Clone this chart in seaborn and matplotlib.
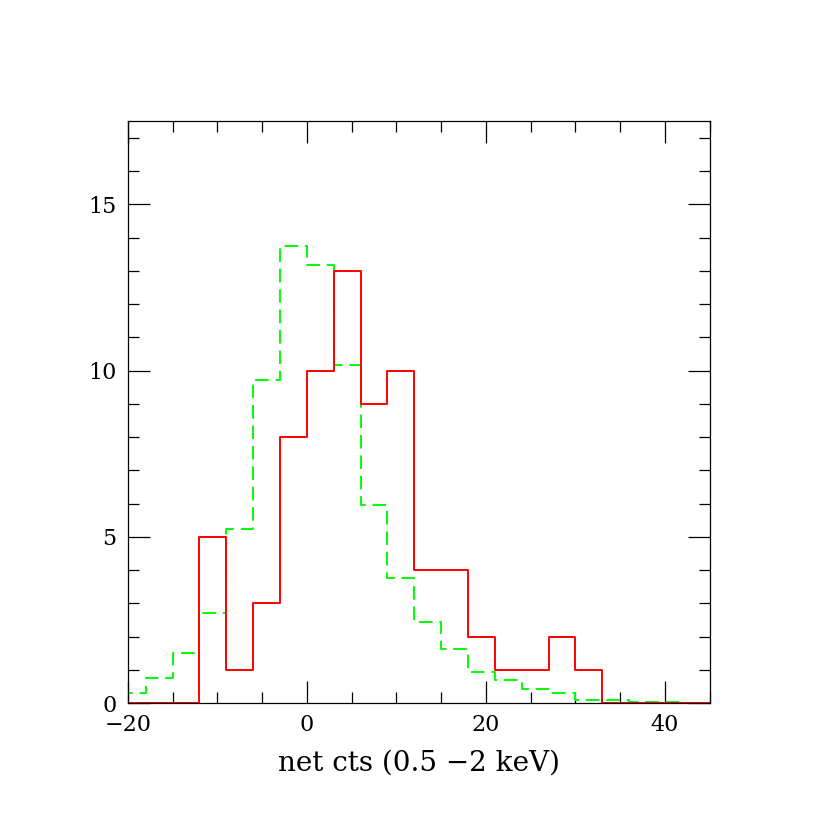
import numpy as np
import matplotlib
matplotlib.use("Agg")
import matplotlib.pyplot as plt
from matplotlib.ticker import MultipleLocator
import seaborn as sns

# bin edges (width 3) and counts
red_edges = [-21, -18, -15, -12, -9, -6, -3, 0, 3, 6, 9, 12, 15, 18, 21, 24, 27, 30, 33, 36, 39, 42, 45]
red_counts = [0, 0, 0, 5, 1, 3, 8, 10, 13, 9, 10, 4, 4, 2, 1, 1, 2, 1, 0, 0, 0, 0]

green_edges = [-21, -18, -15, -12, -9, -6, -3, 0, 3, 6, 9, 12, 15, 18, 21, 24, 27, 30, 33, 36, 39, 42, 45]
green_counts = [0.31, 0.76, 1.49, 2.72, 5.24, 9.71, 13.75, 13.17, 10.16, 5.95, 3.76, 2.43,
                1.63, 0.92, 0.69, 0.41, 0.30, 0.09, 0.09, 0.03, 0.02, 0.01]


def centers(edges):
    e = np.asarray(edges, dtype=float)
    return (e[:-1] + e[1:]) / 2


def main():
    sns.set_style("ticks")
    plt.rcParams["font.family"] = ["DejaVu Serif"]

    fig = plt.figure(figsize=(8.3, 8.3), dpi=100)
    ax = fig.add_axes([0.154, 0.153, 0.701, 0.701])

    sns.histplot(x=centers(green_edges), weights=green_counts, bins=green_edges,
                 element="step", fill=False, color="#00ff00", linestyle=(0, (7, 3.5)),
                 linewidth=1.4, ax=ax)
    sns.histplot(x=centers(red_edges), weights=red_counts, bins=red_edges,
                 element="step", fill=False, color="#ff0000", linewidth=1.4, ax=ax)

    ax.set_xlim(-20, 45)
    ax.set_ylim(0, 17.5)
    ax.xaxis.set_major_locator(MultipleLocator(20))
    ax.xaxis.set_minor_locator(MultipleLocator(5))
    ax.yaxis.set_major_locator(MultipleLocator(5))
    ax.yaxis.set_minor_locator(MultipleLocator(1))
    ax.tick_params(which="both", direction="in", top=True, right=True, labelsize=16,
                   width=0.9, color="black", labelcolor="black")
    ax.tick_params(which="major", length=16, pad=8)
    ax.tick_params(which="minor", length=8)
    for s in ax.spines.values():
        s.set_linewidth(0.9)
        s.set_color("black")

    ax.set_xlabel("net cts (0.5 \u22122 keV)", fontsize=20, labelpad=10, color="black")
    ax.set_ylabel("")

    fig.savefig("out.png", dpi=100)
    plt.close(fig)


if __name__ == "__main__":
    main()
